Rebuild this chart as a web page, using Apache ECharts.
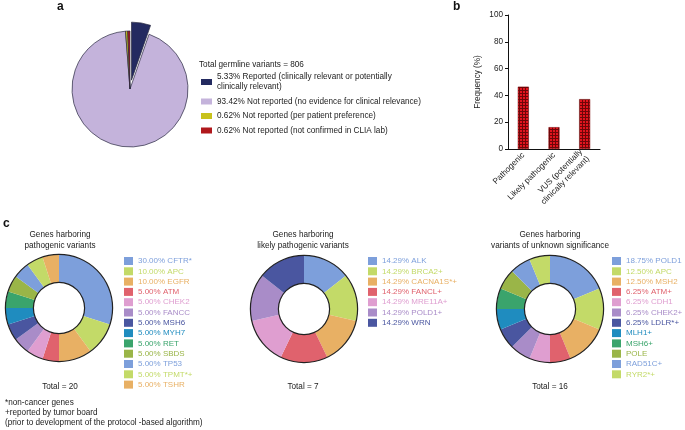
<!DOCTYPE html>
<html><head><meta charset="utf-8">
<script src="https://cdn.jsdelivr.net/npm/echarts@6/dist/echarts.min.js"></script>
<style>html,body{margin:0;padding:0;background:#fff}#c{width:685px;height:430px}</style>
</head><body><div id="c"></div>
<script>
// ---- data ----
const pieALabels = ['5.33% Reported (clinically relevant or potentially\nclinically relevant)', '93.42% Not reported (no evidence for clinical relevance)', '0.62% Not reported (per patient preference)', '0.62% Not reported (not confirmed in CLIA lab)'];
const pieAValues = [5.33, 93.42, 0.62, 0.62];
const pieAColors = ['#232a60', '#c4b3db', '#c8c21c', '#b0181c'];

const barCategories = ['Pathogenic', 'Likely pathogenic', 'VUS (potentially\nclinically relevant)'];
const barValues = [46.5, 16.3, 37.2];

const donut1Labels = ['30.00% CFTR*', '10.00% APC', '10.00% EGFR', '5.00% ATM', '5.00% CHEK2', '5.00% FANCC', '5.00% MSH6', '5.00% MYH7', '5.00% RET', '5.00% SBDS', '5.00% TP53', '5.00% TPMT*+', '5.00% TSHR'];
const donut1Counts = [6, 2, 2, 1, 1, 1, 1, 1, 1, 1, 1, 1, 1];
const donut2Labels = ['14.29% ALK', '14.29% BRCA2+', '14.29% CACNA1S*+', '14.29% FANCL+', '14.29% MRE11A+', '14.29% POLD1+', '14.29% WRN'];
const donut2Counts = [1, 1, 1, 1, 1, 1, 1];
const donut3Labels = ['18.75% POLD1', '12.50% APC', '12.50% MSH2', '6.25% ATM+', '6.25% CDH1', '6.25% CHEK2+', '6.25% LDLR*+', 'MLH1+', 'MSH6+', 'POLE', 'RAD51C+', 'RYR2*+'];
const donut3Counts = [3, 2, 2, 1, 1, 1, 1, 1, 1, 1, 1, 1];
const donutPalette = ['#7d9fdb', '#c3da68', '#e8b064', '#e0626d', '#df9ed0', '#a98cc8', '#4a56a0', '#1f8cbf', '#3aa46c', '#9ab548'];

// ---- build ----
const FONT = 'Liberation Sans, Arial, Helvetica, sans-serif';
const chart = echarts.init(document.getElementById('c'), null, {renderer: 'canvas'});

const pat = document.createElement('canvas');
pat.width = 3; pat.height = 3;
const pc = pat.getContext('2d');
pc.fillStyle = '#e3141e'; pc.fillRect(0, 0, 3, 3);
pc.fillStyle = '#6e0608'; pc.fillRect(0, 0, 3, 1); pc.fillRect(0, 0, 1, 3);

function donutData(labels, counts) {
  return labels.map((n, i) => ({name: n, value: counts[i], itemStyle: {color: donutPalette[i % donutPalette.length]}}));
}
function donutLegend(labels, left) {
  return {
    orient: 'vertical', left: left, top: 256, padding: 0,
    itemWidth: 9, itemHeight: 8, itemGap: 0.3, icon: 'rect', selectedMode: false,
    itemStyle: {borderWidth: 0},
    textStyle: {fontFamily: FONT, fontSize: 8, lineHeight: 10},
    data: labels.map((n, i) => ({name: n, textStyle: {color: donutPalette[i % donutPalette.length]}}))
  };
}
function donutSeries(labels, counts, center) {
  return [{
    type: 'pie', center: center, radius: [25.5, 53.5], startAngle: 90, clockwise: true,
    label: {show: false}, labelLine: {show: false}, silent: true,
    itemStyle: {borderWidth: 0},
    data: donutData(labels, counts)
  }, {
    type: 'pie', center: center, radius: [53, 54.2], silent: true, label: {show: false},
    itemStyle: {color: '#222'}, data: [{name: 'ring-o-' + center[0], value: 1}]
  }, {
    type: 'pie', center: center, radius: [25, 26.2], silent: true, label: {show: false},
    itemStyle: {color: '#222'}, data: [{name: 'ring-i-' + center[0], value: 1}]
  }];
}

const smallText = {fontFamily: FONT, fontSize: 8.2, color: '#222', fontWeight: 'normal', lineHeight: 11};
const option = {
  animation: false,
  backgroundColor: '#fff',
  title: [
    {text: 'a', left: 57, top: 1, padding: 0, textStyle: {fontFamily: FONT, fontSize: 12, fontWeight: 'bold', color: '#111'}},
    {text: 'b', left: 453, top: 1, padding: 0, textStyle: {fontFamily: FONT, fontSize: 12, fontWeight: 'bold', color: '#111'}},
    {text: 'c', left: 3, top: 218, padding: 0, textStyle: {fontFamily: FONT, fontSize: 12, fontWeight: 'bold', color: '#111'}},
    {text: 'Total germline variants = 806', left: 199, top: 59, padding: 0, textStyle: smallText},
    {text: 'Genes harboring\npathogenic variants', left: 60, textAlign: 'center', top: 229, padding: 0, textStyle: smallText},
    {text: 'Genes harboring\nlikely pathogenic variants', left: 303, textAlign: 'center', top: 229, padding: 0, textStyle: smallText},
    {text: 'Genes harboring\nvariants of unknown significance', left: 550, textAlign: 'center', top: 229, padding: 0, textStyle: smallText},
    {text: 'Total = 20', left: 60, textAlign: 'center', top: 381, padding: 0, textStyle: smallText},
    {text: 'Total = 7', left: 303, textAlign: 'center', top: 381, padding: 0, textStyle: smallText},
    {text: 'Total = 16', left: 550, textAlign: 'center', top: 381, padding: 0, textStyle: smallText},
    {text: '*non-cancer genes\n+reported by tumor board\n(prior to development of the protocol -based algorithm)', left: 5, top: 398, padding: 0,
      textStyle: Object.assign({}, smallText, {lineHeight: 10})}
  ],
  legend: [
    {
      orient: 'vertical', left: 201, top: 72, padding: 0,
      itemWidth: 11, itemHeight: 6, itemGap: 4.5, icon: 'rect', selectedMode: false,
      itemStyle: {borderWidth: 0},
      textStyle: {fontFamily: FONT, fontSize: 8.2, lineHeight: 10, color: '#222'},
      data: pieALabels
    },
    donutLegend(donut1Labels, 124),
    donutLegend(donut2Labels, 368),
    donutLegend(donut3Labels, 612)
  ],
  grid: {left: 508, top: 15, width: 92, height: 134, containLabel: false},
  xAxis: {
    type: 'category', data: barCategories,
    axisLine: {lineStyle: {color: '#111', width: 1}},
    axisTick: {alignWithLabel: true, length: 3, lineStyle: {color: '#111'}},
    axisLabel: {rotate: 45, interval: 0, fontFamily: FONT, fontSize: 8.2, color: '#222', margin: 5, lineHeight: 10}
  },
  yAxis: {
    type: 'value', min: 0, max: 100, interval: 20,
    name: 'Frequency (%)', nameLocation: 'middle', nameGap: 26, nameRotate: 90,
    nameTextStyle: {fontFamily: FONT, fontSize: 8.2, color: '#222'},
    axisLine: {show: true, lineStyle: {color: '#111', width: 1}},
    axisTick: {show: true, length: 3, lineStyle: {color: '#111'}},
    axisLabel: {fontFamily: FONT, fontSize: 8.2, color: '#222', margin: 5},
    splitLine: {show: false}
  },
  series: [
    {
      type: 'pie', center: [130, 89], radius: 58, startAngle: 90, clockwise: true,
      selectedMode: 'single', selectedOffset: 9, silent: true,
      label: {show: false}, labelLine: {show: false},
      itemStyle: {borderColor: '#2a2a40', borderWidth: 0.7},
      data: pieALabels.map((n, i) => ({name: n, value: pieAValues[i], selected: i === 0, itemStyle: {color: pieAColors[i]}}))
    },
    {
      type: 'bar', data: barValues, barWidth: 11, silent: true,
      itemStyle: {color: {image: pat, repeat: 'repeat'}, borderColor: '#700', borderWidth: 0.5}
    }
  ].concat(donutSeries(donut1Labels, donut1Counts, [59, 308]))
   .concat(donutSeries(donut2Labels, donut2Counts, [304, 309]))
   .concat(donutSeries(donut3Labels, donut3Counts, [550, 309]))
};
chart.setOption(option);
</script></body></html>
